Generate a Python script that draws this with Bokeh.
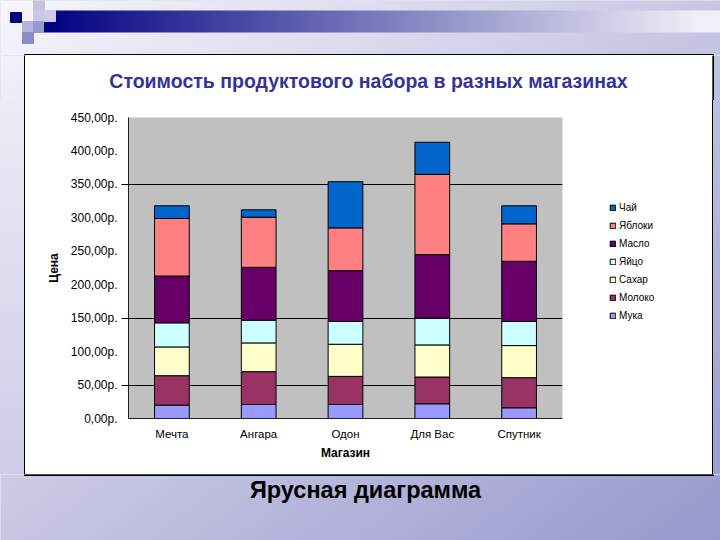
import numpy as np
from bokeh.plotting import figure
from bokeh.layouts import column, row
from bokeh.models import (FactorRange, Range1d, Legend, LegendItem, FixedTicker, LinearAxis,
                          CustomJSTickFormatter, ColumnDataSource, Div)
from bokeh.core.properties import value
from bokeh.embed import file_html
from bokeh.resources import INLINE

# ---------------- data ----------------
stores = ["Мечта", "Ангара", "Одон", "Для Вас", "Спутник"]
products = ["Мука", "Молоко", "Сахар", "Яйцо", "Масло", "Яблоки", "Чай"]
muka = [20, 21, 21, 22, 16]
moloko = [44, 49, 42, 40, 45]
sahar = [43, 43, 48, 48, 48]
yaitso = [36, 34, 34, 40, 36]
maslo = [70, 79, 76, 95, 90]
yabloki = [86, 75, 64, 120, 56]
chai = [19, 11, 69, 48, 27]
y_ticks = [0, 50, 100, 150, 200, 250, 300, 350, 400, 450]
grid_values = [50, 150, 350]
chart_title = "Стоимость продуктового набора в разных магазинах"
slide_title = "Ярусная диаграмма"
x_label = "Магазин"
y_label = "Цена"

colors = ["#9999FF", "#993366", "#FFFFCC", "#CCFFFF", "#660066", "#FF8080", "#0066CC"]

# ---------------- page geometry (pixels) ----------------
PW, PH = 720, 540
BL, BR, BT, BB = 25, 712, 55, 474      # white chart box
TB = 100                                # split between title strip and chart
LG = 590                                # split between chart and legend column
FL, FR, FT, FB = 128, 562, 117, 418     # plot frame

def rgb(h):
    return np.array([int(h[i:i + 2], 16) for i in (1, 3, 5)], dtype=float)

BG0, BG1 = rgb("#f6f6fc"), rgb("#9898cc")
HB0, HB1 = rgb("#000080"), rgb("#f0f0f8")

def bg_hex(x, y):
    t = min(1.0, max(0.0, (x / PW + y / PH) / 2.0))
    c = BG0 + (BG1 - BG0) * t
    return "#%02x%02x%02x" % tuple(int(round(k)) for k in c)

def strip(x0, x1, y0, y1, header=False):
    w, h = x1 - x0, y1 - y0
    f = figure(width=w, height=h, x_range=Range1d(x0, x1), y_range=Range1d(-y1, -y0),
               x_axis_type=None, y_axis_type=None, toolbar_location=None,
               output_backend="svg", min_border=0, outline_line_color=None,
               border_fill_color="#c8c8e6", background_fill_color="#c8c8e6")
    f.grid.visible = False
    xx = np.arange(x0, x1) + 0.5
    yy = np.arange(y0, y1) + 0.5
    X, Y = np.meshgrid(xx, yy)
    t = np.clip((X / PW + Y / PH) / 2.0, 0, 1)[..., None]
    col = BG0 + (BG1 - BG0) * t
    if header:
        m = (X >= 43) & (Y >= 10) & (Y < 32)
        th = np.clip((X - 43) / (700 - 43), 0, 1)[..., None]
        hcol = HB0 + (HB1 - HB0) * th
        col = np.where(m[..., None], hcol, col)
    img = np.empty((h, w), dtype=np.uint32)
    v = img.view(dtype=np.uint8).reshape((h, w, 4))
    v[..., :3] = np.round(col).astype(np.uint8)
    v[..., 3] = 255
    f.image_rgba(image=[np.ascontiguousarray(img[::-1])], x=x0, y=-y1, dw=w, dh=h)
    return f

def side_div(x0, x1, y0, y1, edge):
    xm = (x0 + x1) / 2.0
    bg = ("linear-gradient(#000, #000) %s top / 1px 100%% no-repeat, "
          "linear-gradient(to bottom, %s, %s)" % (edge, bg_hex(xm, y0), bg_hex(xm, y1)))
    return Div(text="", width=x1 - x0, height=y1 - y0, margin=0,
               styles={"background": bg})

def white(x0, x1, y0, y1):
    f = figure(width=x1 - x0, height=y1 - y0, x_range=Range1d(x0, x1),
               y_range=Range1d(-y1, -y0), x_axis_type=None, y_axis_type=None,
               toolbar_location=None, output_backend="svg", min_border=0,
               outline_line_color=None, border_fill_color="white",
               background_fill_color="white")
    f.grid.visible = False
    return f

# top strip with header bar and squares
top = strip(0, PW, 0, BT, header=True)
sq = dict(left=[33, 10, 33, 44, 22, 33, 22], right=[44, 21, 44, 55, 33, 43, 33],
          top=[0, -12, -10, -10, -21, -21, -32], bottom=[-10, -22, -21, -21, -32, -32, -43],
          color=["#c4c4e2", "#000080", "#c8c8e6", "#cdcdea", "#b4b4dc", "#9898cc", "#8c8cc4"])
top.quad(left="left", right="right", top="top", bottom="bottom", color="color",
         source=ColumnDataSource(sq))
top.quad(left=[BL - 1], right=[BR + 1], top=[-(BT - 1)], bottom=[-BT], color="black")

left_a = strip(0, BL, BT, TB)
left_a.quad(left=[BL - 1], right=[BL], top=[-BT], bottom=[-TB], color="black")
right_a = strip(BR, PW, BT, TB)
right_a.quad(left=[BR], right=[BR + 1], top=[-BT], bottom=[-TB], color="black")
left_b = side_div(0, BL, TB, BB, "right")
right_b = side_div(BR, PW, TB, BB, "left")

bottom = strip(0, PW, BB, PH)
bottom.quad(left=[BL - 1], right=[BR + 1], top=[-BB], bottom=[-(BB + 1)], color="black")
bottom.text(x=[365], y=[-489], text=[slide_title], text_align="center",
            text_baseline="middle", text_font=value("Liberation Sans"),
            text_font_style="bold", text_font_size="23.5px", text_color="black")

# chart title strip
tfig = white(BL, BR, BT, TB)
tfig.text(x=[368], y=[-80], text=[chart_title], text_align="center", text_baseline="middle",
          text_font=value("Liberation Sans"), text_font_style="bold",
          text_font_size="19.5px", text_color="#333399")

# ---------------- the chart ----------------
source = ColumnDataSource(dict(store=stores, **dict(zip(products,
                          [muka, moloko, sahar, yaitso, maslo, yabloki, chai]))))

p = figure(x_range=FactorRange(*stores), y_range=Range1d(0, 450),
           width=LG - BL, height=BB - TB, output_backend="svg", toolbar_location=None,
           min_border_left=FL - BL, min_border_right=LG - FR,
           min_border_top=FT - TB, min_border_bottom=BB - FB,
           border_fill_color="white", background_fill_color="#c0c0c0",
           outline_line_color=None)

rs = p.vbar_stack(products, x="store", width=0.4, color=colors, line_color="black",
                  line_width=1, source=source)

p.xgrid.visible = False
p.ygrid.ticker = FixedTicker(ticks=grid_values)
p.ygrid.grid_line_color = "black"
p.ygrid.grid_line_alpha = 1
p.ygrid.grid_line_width = 1

for ax in (p.xaxis[0], p.yaxis[0]):
    ax.major_tick_in = 0
    ax.major_tick_out = 0
    ax.minor_tick_in = 0
    ax.minor_tick_out = 0
    ax.axis_line_color = "#202020"
    ax.major_label_text_font = "Liberation Sans"
    ax.major_label_text_font_size = "11.5px"
    ax.major_label_text_color = "black"
    ax.axis_label_text_font = "Liberation Sans"
    ax.axis_label_text_font_size = "12px"
    ax.axis_label_text_font_style = "bold"
    ax.axis_label_text_color = "black"

p.yaxis.ticker = FixedTicker(ticks=y_ticks)
p.yaxis.formatter = CustomJSTickFormatter(
    code="return tick.toFixed(2).replace('.', ',') + 'р.';")
p.yaxis.major_label_text_font_size = "12px"
p.yaxis.major_label_standoff = 4
p.yaxis.axis_line_color = None
p.yaxis.axis_label = y_label
p.yaxis.axis_label_standoff = 7
p.xaxis.major_label_standoff = 9
p.xaxis.axis_label = x_label
p.xaxis.axis_label_standoff = 3

# inner axis: axis line + tick stubs at the gridlines
stub = LinearAxis(ticker=FixedTicker(ticks=grid_values),
                  formatter=CustomJSTickFormatter(code="return '';"),
                  major_tick_out=7, major_tick_in=0, minor_tick_in=0, minor_tick_out=0,
                  major_label_standoff=0, major_label_text_font_size="0px",
                  axis_line_color="#202020", major_tick_line_color="black")
p.left.insert(0, stub)

# ---------------- legend column ----------------
lfig = white(LG, BR, TB, BB)
items = []
for i in reversed(range(len(products))):
    # swatch renderer kept outside the visible range; only its legend glyph shows
    r = lfig.quad(left=[0], right=[1], top=[0], bottom=[-1], fill_color=colors[i],
                  line_color="black", line_width=1)
    items.append(LegendItem(label=products[i], renderers=[r]))
legend = Legend(items=items, location=(609 - LG, 97), orientation="vertical",
                glyph_width=7, glyph_height=7, label_height=7, spacing=7,
                padding=0, margin=0, border_line_color=None, background_fill_alpha=0,
                label_text_font="Liberation Sans", label_text_font_size="10px",
                label_text_color="black", label_standoff=3)
lfig.add_layout(legend)

layout = column(top,
                row(left_a, tfig, right_a, spacing=0),
                row(left_b, p, lfig, right_b, spacing=0),
                bottom, spacing=0)

open("out.html", "w", encoding="utf-8").write(file_html(layout, INLINE))
